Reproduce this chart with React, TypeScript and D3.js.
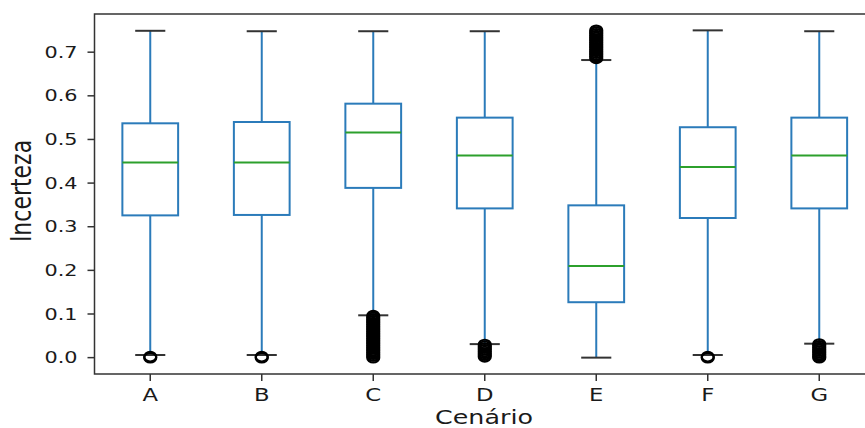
import React from "react";
import * as d3 from "d3";

const categories = ["A", "B", "C", "D", "E", "F", "G"];
const q1 = [0.326, 0.327, 0.389, 0.342, 0.127, 0.32, 0.342];
const medians = [0.447, 0.447, 0.516, 0.463, 0.21, 0.437, 0.463];
const q3 = [0.537, 0.54, 0.582, 0.55, 0.349, 0.528, 0.55];
const whiskerLow = [0.006, 0.006, 0.097, 0.031, 0.0, 0.006, 0.032];
const whiskerHigh = [0.749, 0.748, 0.748, 0.748, 0.682, 0.75, 0.748];
const outliersA = [0.0, 0.002];
const outliersB = [0.0, 0.002];
const outliersC = [0.096, 0.092, 0.088, 0.084, 0.08, 0.076, 0.072, 0.068, 0.064, 0.06, 0.056, 0.052, 0.048, 0.044, 0.04, 0.036, 0.032, 0.028, 0.024, 0.02, 0.016, 0.012, 0.008, 0.004, 0.0];
const outliersD = [0.03, 0.026, 0.022, 0.018, 0.014, 0.01, 0.006, 0.002];
const outliersE = [0.686, 0.69, 0.694, 0.698, 0.702, 0.706, 0.71, 0.714, 0.718, 0.722, 0.726, 0.73, 0.734, 0.738, 0.742, 0.746, 0.75];
const outliersF = [0.0, 0.002];
const outliersG = [0.031, 0.027, 0.023, 0.019, 0.015, 0.011, 0.007, 0.003, 0.0];
const outliers = [outliersA, outliersB, outliersC, outliersD, outliersE, outliersF, outliersG];
const yTicks = [0.0, 0.1, 0.2, 0.3, 0.4, 0.5, 0.6, 0.7];
const xLabel = "Cenário";
const yLabel = "Incerteza";

export default function App() {
  const W = 865, H = 428;
  const left = 94.5, top = 14, bottom = 374, right = 875;
  const x = d3.scaleLinear().domain([0.5, 7.5]).range([left, right]);
  const y = d3.scaleLinear().domain([-0.0375, 0.7875]).range([bottom, top]);
  const unit = x(2) - x(1);
  const boxW = unit * 0.5;
  const capW = unit * 0.27;
  const blue = "#2b7bba";
  const sx = 1.3;
  const font = "DejaVu Sans, sans-serif";
  const txt = "#1a1a1a";

  return (
    <svg width={W} height={H} style={{ position: "absolute", left: 0, top: 0, background: "#fff" }}>
      <rect x={0} y={0} width={W} height={H} fill="#fff" />
      {categories.map((c, i) => {
        const cx = x(i + 1);
        return (
          <g key={c}>
            <line x1={cx} x2={cx} y1={y(q3[i])} y2={y(whiskerHigh[i])} stroke={blue} strokeWidth={2} />
            <line x1={cx} x2={cx} y1={y(q1[i])} y2={y(whiskerLow[i])} stroke={blue} strokeWidth={2} />
            <rect x={cx - boxW / 2} y={y(q3[i])} width={boxW} height={y(q1[i]) - y(q3[i])} fill="none" stroke={blue} strokeWidth={2} />
            <line x1={cx - boxW / 2} x2={cx + boxW / 2} y1={y(medians[i])} y2={y(medians[i])} stroke="#2ca02c" strokeWidth={2} />
            <line x1={cx - capW / 2} x2={cx + capW / 2} y1={y(whiskerHigh[i])} y2={y(whiskerHigh[i])} stroke="#333" strokeWidth={2} />
            <line x1={cx - capW / 2} x2={cx + capW / 2} y1={y(whiskerLow[i])} y2={y(whiskerLow[i])} stroke="#333" strokeWidth={2} />
            {outliers[i].map((v, j) => (
              <ellipse key={j} cx={cx} cy={y(v)} rx={6} ry={4.8} fill="none" stroke="#000" strokeWidth={2.2} />
            ))}
          </g>
        );
      })}
      <path d={`M${right},${top}H${left}V${bottom}H${right}`} fill="none" stroke="#333" strokeWidth={1.5} />
      {yTicks.map((t) => (
        <g key={t}>
          <line x1={left - 7} x2={left} y1={y(t)} y2={y(t)} stroke="#333" strokeWidth={1.5} />
          <text transform={`translate(${left - 17},${y(t) + 5.5}) scale(${sx},1)`} textAnchor="end" fontFamily={font} fontSize={16} fill={txt}>
            {t.toFixed(1)}
          </text>
        </g>
      ))}
      {categories.map((c, i) => (
        <g key={c}>
          <line x1={x(i + 1)} x2={x(i + 1)} y1={bottom} y2={bottom + 7} stroke="#333" strokeWidth={1.5} />
          <text transform={`translate(${x(i + 1)},${401}) scale(${sx},1)`} textAnchor="middle" fontFamily={font} fontSize={17.5} fill={txt}>
            {c}
          </text>
        </g>
      ))}
      <text transform={`translate(484,424) scale(${sx},1)`} textAnchor="middle" fontFamily={font} fontSize={19.5} fill={txt}>
        {xLabel}
      </text>
      <text transform={`translate(31,191) scale(${sx},1) rotate(-90)`} textAnchor="middle" fontFamily={font} fontSize={22} fill={txt}>
        {yLabel}
      </text>
    </svg>
  );
}
